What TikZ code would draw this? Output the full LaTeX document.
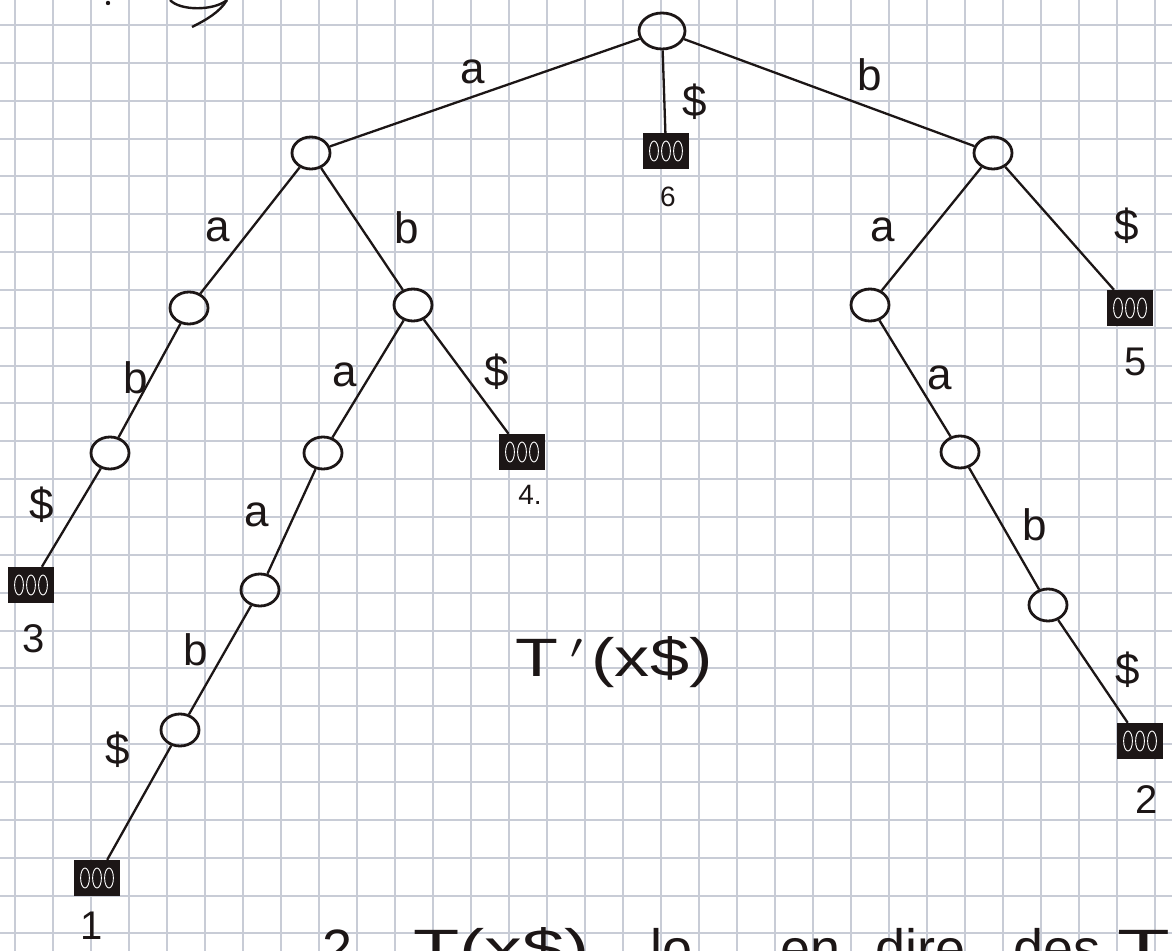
\documentclass[tikz,border=0pt]{standalone}
\usepackage{fontspec}
\setmainfont{Liberation Sans}
\usetikzlibrary{shapes.geometric}
\definecolor{gridc}{RGB}{200,204,214}
\definecolor{ink}{RGB}{28,22,22}

\begin{document}
\begin{tikzpicture}[x=0.5pt,y=-0.5pt,
  inner/.style={ellipse, draw=ink, line width=1.4pt, minimum width=19pt,
                minimum height=16pt, inner sep=0pt},
  leaf/.style={rectangle, draw=ink, fill=ink, line width=1.2pt,
               minimum width=22pt, minimum height=17pt, inner sep=0pt,
               path picture={
                 \foreach \dx in {-6,0,6}
                   \draw[white, line width=0.45pt]
                     ([xshift=\dx pt]path picture bounding box.center)
                     ellipse (2.2pt and 5pt);}},
  edge/.style={draw=ink, line width=1.15pt},
  lbl/.style={text=ink, font=\fontsize{22}{26}\selectfont, inner sep=0pt},
  num/.style={text=ink, font=\fontsize{20}{24}\selectfont, inner sep=0pt},
  smallnum/.style={text=ink, font=\fontsize{14}{17}\selectfont, inner sep=0pt},
  title/.style={text=ink, font=\fontsize{27}{32}\selectfont, inner sep=0pt}]

\useasboundingbox (0,0) rectangle (1172,951);
\clip (0,0) rectangle (1172,951);
\fill[white] (0,0) rectangle (1172,951);

% squared paper, 38 px cells
\foreach \gx in {15,53,...,1170}
  \draw[gridc, line width=1pt] (\gx,0) -- (\gx,951);
\foreach \gy in {25,62.85,...,950}
  \draw[gridc, line width=1pt] (0,\gy) -- (1172,\gy);

% remains of the heading line above
\fill[ink] (108,3) circle (2.2);
\draw[ink, line width=1.2pt] (170,0) .. controls (180,11) and (214,11) .. (227,0);
\draw[ink, line width=1.2pt] (227,0) .. controls (220,12) and (206,20) .. (192,27);

% tree nodes
\node[inner, minimum width=23pt, minimum height=18pt] (r) at (662,31) {};
\node[inner] (a)     at (311,153) {};
\node[inner] (b)     at (993,153) {};
\node[leaf]  (l6)    at (666,151) {};
\node[inner] (aa)    at (189,308) {};
\node[inner] (ab)    at (413,305) {};
\node[inner] (aab)   at (110,453) {};
\node[leaf]  (l3)    at (31,585) {};
\node[inner] (aba)   at (323,453) {};
\node[leaf]  (l4)    at (522,452) {};
\node[inner] (abaa)  at (260,590) {};
\node[inner] (abaab) at (180,730) {};
\node[leaf]  (l1)    at (97,878) {};
\node[inner] (ba)    at (870,305) {};
\node[leaf]  (l5)    at (1130,308) {};
\node[inner] (baa)   at (960,452) {};
\node[inner] (baab)  at (1048,605) {};
\node[leaf]  (l2)    at (1140,741) {};

% edges
\draw[edge] (r) -- (a);
\draw[edge] (r) -- (l6);
\draw[edge] (r) -- (b);
\draw[edge] (a) -- (aa);
\draw[edge] (a) -- (ab);
\draw[edge] (aa) -- (aab);
\draw[edge] (aab) -- (l3);
\draw[edge] (ab) -- (aba);
\draw[edge] (ab) -- (l4);
\draw[edge] (aba) -- (abaa);
\draw[edge] (abaa) -- (abaab);
\draw[edge] (abaab) -- (l1);
\draw[edge] (b) -- (ba);
\draw[edge] (b) -- (l5);
\draw[edge] (ba) -- (baa);
\draw[edge] (baa) -- (baab);
\draw[edge] (baab) -- (l2);

% edge labels
\node[lbl] (e1)  at (473,72)   {a};
\node[lbl] (e2)  at (695,102)  {\$};
\node[lbl] (e3)  at (870,75)   {b};
\node[lbl] (e4)  at (218,230)  {a};
\node[lbl] (e5)  at (407,228)  {b};
\node[lbl] (e6)  at (136,378)  {b};
\node[lbl] (e7)  at (42,505)   {\$};
\node[lbl] (e8)  at (345,375)  {a};
\node[lbl] (e9)  at (497,372)  {\$};
\node[lbl] (e10) at (257,515)  {a};
\node[lbl] (e11) at (196,650)  {b};
\node[lbl] (e12) at (118,750)  {\$};
\node[lbl] (e13) at (883,230)  {a};
\node[lbl] (e14) at (1127,226) {\$};
\node[lbl] (e15) at (940,378)  {a};
\node[lbl] (e16) at (1035,525) {b};
\node[lbl] (e17) at (1128,670) {\$};

% leaf numbers
\node[smallnum] (n6) at (668,197) {6};
\node[num]      (n3) at (34,639)  {3};
\node[smallnum] (n4) at (530,495) {4.};
\node[num]      (n1) at (92,926)  {1};
\node[num]      (n5) at (1136,362) {5};
\node[num]      (n2) at (1147,800) {2};

% caption
\node[title] (cap) at (614,662)
  {\scalebox{1.3}[1]{T\,$'$\hspace{3pt}(x\$)}};

% next line of the sheet, cut by the lower edge
\node[title, anchor=base west] (w1) at (322,967) {2.};
\node[title, anchor=base west] (w2) at (413,967) {\scalebox{1.4}[1]{T(x\$)}};
\node[title, anchor=base west] (w3) at (650,967) {lo};
\node[title, anchor=base west] (w4) at (780,967) {en};
\node[title, anchor=base west] (w5) at (875,967) {dire};
\node[title, anchor=base west] (w6) at (1013,967) {des};
\node[title, anchor=base west] (w7) at (1117,967) {\scalebox{1.6}[1]{T}};
\end{tikzpicture}
\end{document}
